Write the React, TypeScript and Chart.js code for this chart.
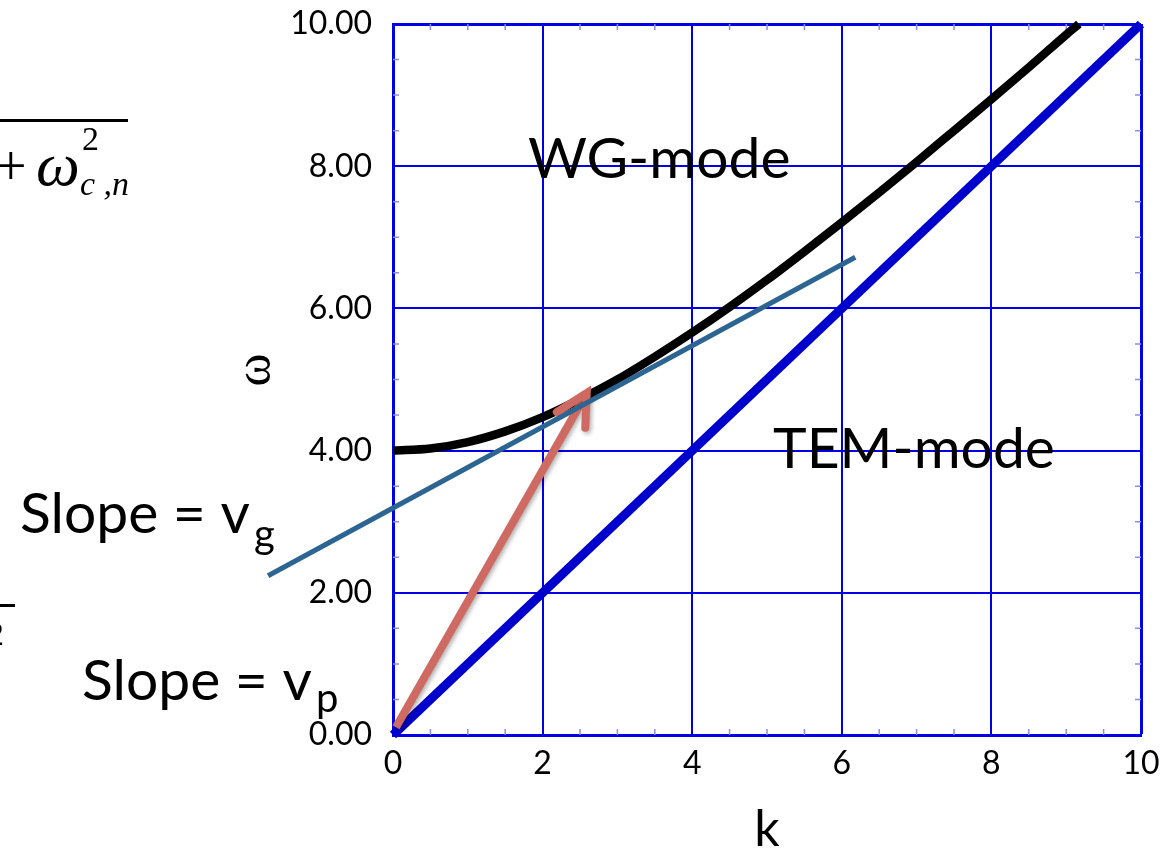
import React, { useEffect, useRef } from "react";
import { Chart, registerables } from "chart.js";

Chart.register(...registerables);

// ---- data ----
const X_TICKS = [0, 2, 4, 6, 8, 10];
const Y_TICKS = [0, 2, 4, 6, 8, 10];
const MINOR_TICKS = [0.5, 1, 1.5, 2.5, 3, 3.5, 4.5, 5, 5.5, 6.5, 7, 7.5, 8.5, 9, 9.5];

// WG-mode dispersion curve
const K_WG = [0, 0.5, 1, 1.5, 2, 2.5, 3, 3.5, 4, 4.5, 5, 5.5, 6, 6.5, 7, 7.5, 8, 8.5, 9, 9.17];
const OMEGA_WG = [4.0, 4.03, 4.12, 4.27, 4.47, 4.72, 5.0, 5.32, 5.66, 6.02, 6.4, 6.8, 7.21, 7.63, 8.06, 8.5, 8.94, 9.39, 9.85, 10.0];

// TEM-mode line
const K_TEM = [0, 10];
const OMEGA_TEM = [0, 10];

// tangent line (group velocity)
const K_TAN = [-1.67, 6.18];
const OMEGA_TAN = [2.24, 6.72];

// phase-velocity arrow
const K_ARROW = [0.04, 2.59];
const OMEGA_ARROW = [0.11, 4.81];
const K_HEAD = [2.19, 2.59, 2.57];
const OMEGA_HEAD = [4.54, 4.81, 4.32];

const X_TITLE = "k";
const Y_TITLE = "ω";
const LABEL_WG = "WG-mode";
const LABEL_TEM = "TEM-mode";
const SLOPE_TEXT = "Slope = v";
const SUB_G = "g";
const SUB_P = "p";

const zip = (xs: number[], ys: number[]) => xs.map((x, i) => ({ x, y: ys[i] }));

const BLUE = "#0000E6";
const FONT = "Lato";

const overlayPlugin = {
  id: "overlay",
  beforeDatasetsDraw(chart: any) {
    const { ctx, chartArea, scales } = chart;
    const xs = scales.x;
    const ys = scales.y;
    const len = 6;
    ctx.save();
    ctx.strokeStyle = "#8C8CF2";
    ctx.lineWidth = 1.5;
    ctx.beginPath();
    MINOR_TICKS.forEach((v) => {
      const px = xs.getPixelForValue(v);
      ctx.moveTo(px, chartArea.bottom);
      ctx.lineTo(px, chartArea.bottom - len);
      ctx.moveTo(px, chartArea.top);
      ctx.lineTo(px, chartArea.top + len);
      const py = ys.getPixelForValue(v);
      ctx.moveTo(chartArea.left, py);
      ctx.lineTo(chartArea.left + len, py);
      ctx.moveTo(chartArea.right, py);
      ctx.lineTo(chartArea.right - len, py);
    });
    ctx.stroke();
    ctx.restore();
  },
  beforeDatasetDraw(chart: any, args: any) {
    if (args.index === 1 || args.index === 2) {
      const ctx = chart.ctx;
      ctx.save();
      ctx.shadowColor = "rgba(0,0,0,0.3)";
      ctx.shadowBlur = 4;
      ctx.shadowOffsetX = 2;
      ctx.shadowOffsetY = 2;
    }
  },
  afterDatasetDraw(chart: any, args: any) {
    if (args.index === 1 || args.index === 2) {
      chart.ctx.restore();
    }
  },
  afterDraw(chart: any) {
    const { ctx, chartArea } = chart;
    ctx.save();
    ctx.fillStyle = "#000";
    ctx.textBaseline = "alphabetic";
    ctx.textAlign = "left";

    // annotations
    ctx.font = `57px ${FONT}`;
    ctx.fillText(LABEL_WG, 528, 178);
    ctx.fillText(LABEL_TEM, 773, 468);

    ctx.font = `57px ${FONT}`;
    ctx.fillText(SLOPE_TEXT, 20, 533);
    let w = ctx.measureText(SLOPE_TEXT).width;
    ctx.font = `40px ${FONT}`;
    ctx.fillText(SUB_G, 20 + w + 4, 548);

    ctx.font = `57px ${FONT}`;
    ctx.fillText(SLOPE_TEXT, 82, 700);
    w = ctx.measureText(SLOPE_TEXT).width;
    ctx.font = `40px ${FONT}`;
    ctx.fillText(SUB_P, 82 + w + 4, 712);

    // axis titles
    ctx.font = `50px ${FONT}`;
    ctx.textAlign = "center";
    ctx.fillText(X_TITLE, (chartArea.left + chartArea.right) / 2, 846);

    ctx.save();
    ctx.translate(257, 370);
    ctx.rotate(-Math.PI / 2);
    ctx.font = `50px "Liberation Serif"`;
    ctx.textBaseline = "middle";
    ctx.fillText(Y_TITLE, 0, 0);
    ctx.restore();

    // left formula fragments (cropped)
    ctx.textAlign = "left";
    ctx.fillRect(0, 119, 128, 3);
    ctx.font = `56px "Liberation Serif"`;
    ctx.fillText("+", -5, 185);
    ctx.font = `italic 62px "Liberation Serif"`;
    ctx.fillText("ω", 36, 185);
    ctx.font = `34px "Liberation Serif"`;
    ctx.fillText("2", 82, 150);
    ctx.font = `italic 34px "Liberation Serif"`;
    ctx.fillText("c ,n", 80, 195);

    ctx.fillRect(0, 604, 15, 3);
    ctx.font = `34px "Liberation Serif"`;
    ctx.fillText("2", -13, 645);
    ctx.restore();
  },
};

export default function App() {
  const ref = useRef<HTMLCanvasElement | null>(null);
  useEffect(() => {
    if (!ref.current) return;
    const chart = new Chart(ref.current, {
      type: "line",
      data: {
        datasets: [
          {
            data: zip(K_TAN, OMEGA_TAN),
            borderColor: "#2D6592",
            borderWidth: 5,
            pointRadius: 0,
            clip: false as any,
            tension: 0,
          },
          {
            data: zip(K_HEAD, OMEGA_HEAD),
            borderColor: "#CF6A62",
            borderWidth: 8,
            borderCapStyle: "round",
            borderJoinStyle: "miter",
            pointRadius: 0,
            clip: false as any,
            tension: 0,
          },
          {
            data: zip(K_ARROW, OMEGA_ARROW),
            borderColor: "#CF6A62",
            borderWidth: 8,
            borderCapStyle: "butt",
            pointRadius: 0,
            clip: false as any,
            tension: 0,
          },
          {
            data: zip(K_WG, OMEGA_WG),
            borderColor: "#000000",
            borderWidth: 8.5,
            pointRadius: 0,
            cubicInterpolationMode: "monotone",
            clip: false as any,
          },
          {
            data: zip(K_TEM, OMEGA_TEM),
            borderColor: "#0000CC",
            borderWidth: 9,
            pointRadius: 0,
            clip: false as any,
            tension: 0,
          },
        ],
      },
      options: {
        animation: false,
        responsive: true,
        maintainAspectRatio: false,
        layout: { padding: { top: 24, right: 26, left: 0, bottom: 0 } },
        plugins: {
          legend: { display: false },
          tooltip: { enabled: false },
        },
        scales: {
          x: {
            type: "linear",
            min: 0,
            max: 10,
            afterBuildTicks: (scale: any) => {
              scale.ticks = X_TICKS.map((v) => ({ value: v }));
            },
            afterFit: (scale: any) => {
              scale.height = 117;
              scale.paddingLeft = 0;
              scale.paddingRight = 0;
            },
            ticks: {
              color: "#000",
              font: { family: FONT, size: 32 },
              padding: 9,
              maxRotation: 0,
              callback: (v: any) => String(v),
            },
            grid: {
              color: BLUE,
              lineWidth: (c: any) => (c.tick && c.tick.value === 10 ? 3 : 2),
              drawTicks: false,
            },
            border: { display: true, color: BLUE, width: 3 },
          },
          y: {
            type: "linear",
            min: 0,
            max: 10,
            afterBuildTicks: (scale: any) => {
              scale.ticks = Y_TICKS.map((v) => ({ value: v }));
            },
            afterFit: (scale: any) => {
              scale.width = 393;
              scale.paddingTop = 0;
              scale.paddingBottom = 0;
            },
            ticks: {
              color: "#000",
              font: { family: FONT, size: 32 },
              padding: 21,
              callback: (v: any) => Number(v).toFixed(2),
            },
            grid: {
              color: BLUE,
              lineWidth: (c: any) => (c.tick && c.tick.value === 10 ? 3 : 2),
              drawTicks: false,
            },
            border: { display: true, color: BLUE, width: 3 },
          },
        },
      },
      plugins: [overlayPlugin],
    });
    return () => chart.destroy();
  }, []);

  return (
    <div
      style={{
        position: "fixed",
        left: 0,
        top: 0,
        width: 1167,
        height: 852,
        background: "#fff",
      }}
    >
      <canvas ref={ref} />
    </div>
  );
}
